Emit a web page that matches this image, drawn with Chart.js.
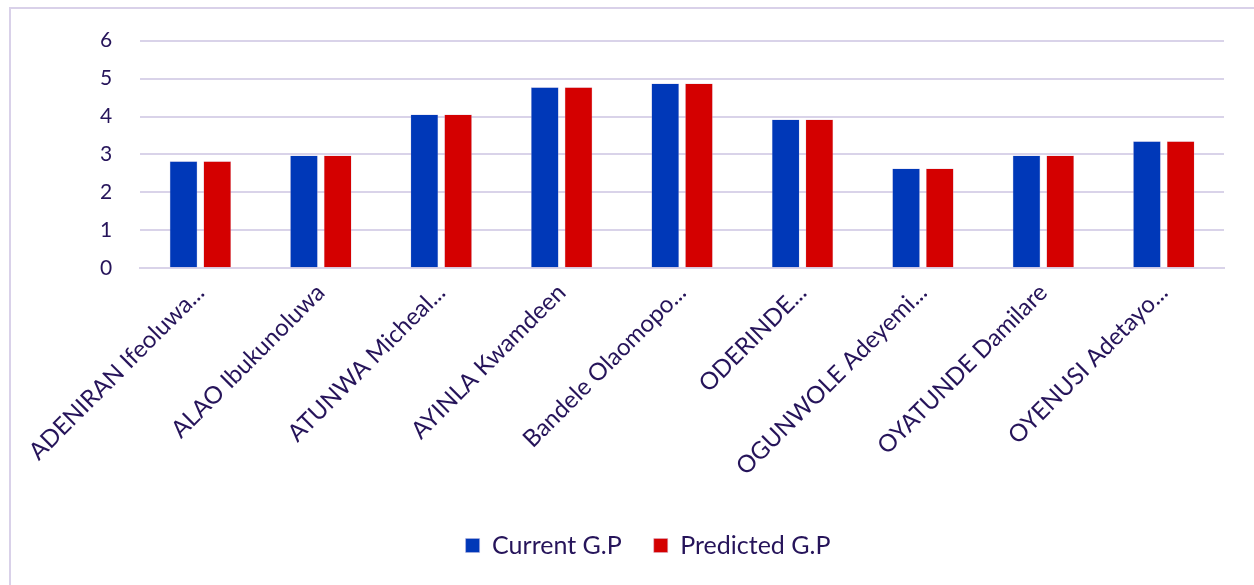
<!DOCTYPE html>
<html>
<head>
<meta charset="utf-8">
<script src="https://cdn.jsdelivr.net/npm/chart.js@4/dist/chart.umd.min.js"></script>
<style>
  html, body { margin: 0; padding: 0; background: #fff; }
  #frame {
    position: absolute; left: 9px; top: 7px; width: 1260px; height: 600px;
    border-left: 2px solid #d9d1e9; border-top: 2px solid #d9d1e9;
  }
  #wrap { position: absolute; left: 0; top: 0; width: 1254px; height: 585px; }
</style>
</head>
<body>
<div id="frame"></div>
<div id="wrap"><canvas id="gpChart"></canvas></div>
<script>
// ---- data ----
const students = [
    'ADENIRAN Ifeoluwa...',
    'ALAO Ibukunoluwa',
    'ATUNWA Micheal...',
    'AYINLA Kwamdeen',
    'Bandele Olaomopo...',
    'ODERINDE...',
    'OGUNWOLE Adeyemi...',
    'OYATUNDE Damilare',
    'OYENUSI Adetayo...'
];
const currentGP   = [2.82, 2.97, 4.05, 4.77, 4.87, 3.92, 2.63, 2.97, 3.35];
const predictedGP = [2.82, 2.97, 4.05, 4.77, 4.87, 3.92, 2.63, 2.97, 3.35];
const yTicks = [0, 1, 2, 3, 4, 5, 6];

const textColor = '#26145a';
const gridColor = '#d9d3e9';

const ctx = document.getElementById('gpChart').getContext('2d');
new Chart(ctx, {
    type: 'bar',
    data: {
        labels: students,
        datasets: [
            {
                label: 'Current G.P',
                data: currentGP,
                backgroundColor: '#0038b8',
                borderColor: '#b9b4dd',
                borderWidth: 0.5
            },
            {
                label: 'Predicted G.P',
                data: predictedGP,
                backgroundColor: '#d40000',
                borderColor: '#d8b0c8',
                borderWidth: 0.5
            }
        ]
    },
    options: {
        responsive: true,
        maintainAspectRatio: false,
        animation: false,
        layout: { padding: { top: 26, left: 72, right: 30, bottom: 17 } },
        datasets: { bar: { categoryPercentage: 0.56, barPercentage: 0.82 } },
        scales: {
            x: {
                grid: { display: false, drawTicks: false },
                border: { color: gridColor, width: 2 },
                ticks: {
                    color: textColor,
                    font: { family: 'Lato', size: 24 },
                    minRotation: 45,
                    maxRotation: 45,
                    autoSkip: false,
                    padding: 10
                },
                afterFit: function(scale) { scale.height += 10; }
            },
            y: {
                min: 0,
                max: 6,
                afterBuildTicks: function(scale) {
                    scale.ticks = yTicks.map(v => ({ value: v }));
                },
                grid: { color: gridColor, lineWidth: 2, drawTicks: false },
                border: { display: false },
                ticks: {
                    color: textColor,
                    font: { family: 'Lato', size: 21 },
                    padding: 28
                }
            }
        },
        plugins: {
            legend: {
                position: 'bottom',
                labels: {
                    color: textColor,
                    font: { family: 'Lato', size: 25 },
                    boxWidth: 14,
                    boxHeight: 14,
                    padding: 32
                }
            },
            tooltip: { enabled: false }
        }
    }
});
</script>
</body>
</html>
